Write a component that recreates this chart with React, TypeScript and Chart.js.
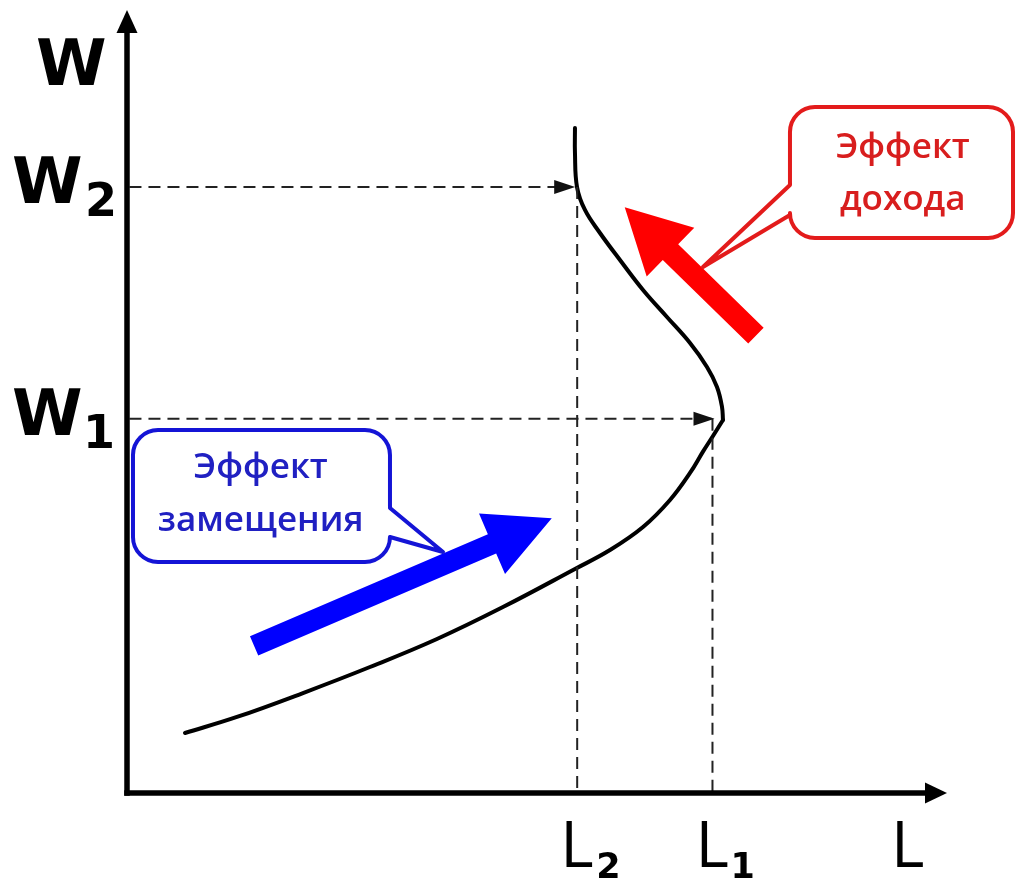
import React, { useEffect, useRef } from "react";
import { Chart, registerables } from "chart.js";

Chart.register(...registerables);

// ---- axis ranges (abstract units) ----
const X_MAX = 100;
const Y_MAX = 100;

// ---- key levels ----
const L2 = 54.9;
const L1 = 71.4;
const W2 = 77.4;
const W1 = 47.8;

// ---- backward-bending labour supply curve (L, W) ----
// rising (substitution-effect) branch, from the bottom up to the turning point
const lowerL = [7.07, 13.41, 21.46, 29.63, 37.8, 45.85, 54.63, 58.9, 62.93, 66.22, 68.66, 70.24, 71.46, 72.68];
const lowerW = [7.66, 9.71, 12.77, 16.09, 19.67, 23.75, 28.61, 31.03, 33.97, 37.42, 40.87, 43.6, 45.6, 47.64];
// bending-back (income-effect) branch, from the turning point upward
const upperL = [72.68, 72.56, 71.95, 70.73, 68.66, 65.85, 62.93, 60.12, 57.68, 55.85, 54.88, 54.63, 54.63];
const upperW = [47.64, 49.3, 51.85, 54.41, 57.47, 60.79, 64.24, 68.07, 71.52, 74.46, 77.39, 81.74, 84.93];

// ---- labels ----
const yAxisLabel = "W";
const xAxisLabel = "L";
const wLabels = [
  { base: "W", sub: "2", value: W2 },
  { base: "W", sub: "1", value: W1 },
];
const lLabels = [
  { base: "L", sub: "2", value: L2 },
  { base: "L", sub: "1", value: L1 },
];
const incomeText = ["Эффект", "дохода"];
const substitutionText = ["Эффект", "замещения"];

// ---- annotation geometry in data units ----
const incomeArrow = { from: [76.7, 58.4], to: [60.7, 74.8] };
const substitutionArrow = { from: [15.5, 18.8], to: [51.8, 35.1] };
const incomeBox = { l: 80.85, r: 108.05, t: 87.61, b: 70.88, tail1: 77.65, tail2: 73.82, tip: [70.24, 67.18], textX: 94.6, lines: [81.1, 74.4] };
const substBox = { l: 0.73, r: 32.07, t: 46.36, b: 29.5, tail1: 36.4, tail2: 32.7, tip: [38.54, 30.78], textX: 16.3, lines: [40.2, 33.4] };

const RED = "#ff0000";
const RED_BORDER = "#e31b1b";
const RED_TEXT = "#d81e1e";
const BLUE = "#0000ff";
const BLUE_BORDER = "#1414d6";
const BLUE_TEXT = "#2020c2";
const DASH = "#222222";
const CALLOUT_FONT = "600 35px 'Open Sans'";

function fatArrow(ctx: CanvasRenderingContext2D, x0: number, y0: number, x1: number, y1: number, sw: number, hl: number, hw: number, color: string) {
  const dx = x1 - x0, dy = y1 - y0;
  const len = Math.hypot(dx, dy);
  const ux = dx / len, uy = dy / len;
  const nx = -uy, ny = ux;
  const bx = x1 - ux * hl, by = y1 - uy * hl;
  ctx.beginPath();
  ctx.moveTo(x0 + nx * sw, y0 + ny * sw);
  ctx.lineTo(bx + nx * sw, by + ny * sw);
  ctx.lineTo(bx + nx * hw, by + ny * hw);
  ctx.lineTo(x1, y1);
  ctx.lineTo(bx - nx * hw, by - ny * hw);
  ctx.lineTo(bx - nx * sw, by - ny * sw);
  ctx.lineTo(x0 - nx * sw, y0 - ny * sw);
  ctx.closePath();
  ctx.fillStyle = color;
  ctx.fill();
}

function triangle(ctx: CanvasRenderingContext2D, tx: number, ty: number, dirx: number, diry: number, len: number, half: number, color: string) {
  const bx = tx - dirx * len, by = ty - diry * len;
  const nx = -diry, ny = dirx;
  ctx.beginPath();
  ctx.moveTo(tx, ty);
  ctx.lineTo(bx + nx * half, by + ny * half);
  ctx.lineTo(bx - nx * half, by - ny * half);
  ctx.closePath();
  ctx.fillStyle = color;
  ctx.fill();
}

function textAt(ctx: CanvasRenderingContext2D, s: string, left: number, baseline: number) {
  const m = ctx.measureText(s);
  ctx.textAlign = "left";
  ctx.textBaseline = "alphabetic";
  ctx.fillText(s, left + m.actualBoundingBoxLeft, baseline);
}

const overlay = {
  id: "overlay",
  afterDatasetsDraw(chart: any) {
    const ctx: CanvasRenderingContext2D = chart.ctx;
    const xs = chart.scales.x;
    const ys = chart.scales.y;
    const px = (v: number) => xs.getPixelForValue(v);
    const py = (v: number) => ys.getPixelForValue(v);
    const ox = px(0), oy = py(0), xEnd = px(X_MAX), yEnd = py(Y_MAX);
    ctx.save();

    // dashed-line arrowheads
    triangle(ctx, px(L2) - 2, py(W2), 1, 0, 21, 7, "#111");
    triangle(ctx, px(L1) + 2, py(W1), 1, 0, 21, 7, "#111");

    // axes
    ctx.strokeStyle = "#000";
    ctx.lineWidth = 5.5;
    ctx.beginPath();
    ctx.moveTo(ox, oy + 2.75);
    ctx.lineTo(ox, yEnd + 18);
    ctx.stroke();
    ctx.beginPath();
    ctx.moveTo(ox - 2.75, oy);
    ctx.lineTo(xEnd - 16, oy);
    ctx.stroke();
    triangle(ctx, ox, yEnd, 0, -1, 23, 10.5, "#000");
    triangle(ctx, xEnd, oy, 1, 0, 22, 10.5, "#000");

    // axis labels
    ctx.fillStyle = "#000";
    ctx.font = "bold 64px 'DejaVu Sans'";
    textAt(ctx, yAxisLabel, ox - 90, yEnd + 75);
    for (const w of wLabels) {
      ctx.font = "bold 64px 'DejaVu Sans'";
      textAt(ctx, w.base, ox - 114, py(w.value) + 16);
      ctx.font = "bold 46px 'DejaVu Sans'";
      textAt(ctx, w.sub, ox - 39, py(w.value) + 29);
    }
    for (const l of lLabels) {
      ctx.font = "64px 'Open Sans'";
      textAt(ctx, l.base, px(l.value) - 11, oy + 74);
      ctx.font = "bold 35px 'DejaVu Sans'";
      textAt(ctx, l.sub, px(l.value) + 21, oy + 85);
    }
    ctx.font = "64px 'Open Sans'";
    textAt(ctx, xAxisLabel, xEnd - 50, oy + 74);

    // fat arrows
    fatArrow(ctx, px(incomeArrow.from[0]), py(incomeArrow.from[1]), px(incomeArrow.to[0]), py(incomeArrow.to[1]), 11, 64, 34, RED);
    fatArrow(ctx, px(substitutionArrow.from[0]), py(substitutionArrow.from[1]), px(substitutionArrow.to[0]), py(substitutionArrow.to[1]), 10.5, 65, 33, BLUE);

    // callouts
    const rad = 25;
    {
      const b = incomeBox;
      const l = px(b.l), r = px(b.r), t = py(b.t), bo = py(b.b);
      ctx.beginPath();
      ctx.moveTo(l + rad, t);
      ctx.lineTo(r - rad, t);
      ctx.arcTo(r, t, r, t + rad, rad);
      ctx.lineTo(r, bo - rad);
      ctx.arcTo(r, bo, r - rad, bo, rad);
      ctx.lineTo(l + rad, bo);
      ctx.arcTo(l, bo, l, bo - rad, rad);
      ctx.lineTo(l, py(b.tail2));
      ctx.lineTo(px(b.tip[0]), py(b.tip[1]));
      ctx.lineTo(l, py(b.tail1));
      ctx.lineTo(l, t + rad);
      ctx.arcTo(l, t, l + rad, t, rad);
      ctx.closePath();
      ctx.fillStyle = "#fff";
      ctx.fill();
      ctx.strokeStyle = RED_BORDER;
      ctx.lineWidth = 4;
      ctx.lineJoin = "round";
      ctx.stroke();
      ctx.fillStyle = RED_TEXT;
      ctx.font = CALLOUT_FONT;
      ctx.textAlign = "center";
      ctx.textBaseline = "alphabetic";
      incomeText.forEach((s, i) => ctx.fillText(s, px(b.textX), py(b.lines[i])));
    }
    {
      const b = substBox;
      const l = px(b.l), r = px(b.r), t = py(b.t), bo = py(b.b);
      ctx.beginPath();
      ctx.moveTo(l + rad, t);
      ctx.lineTo(r - rad, t);
      ctx.arcTo(r, t, r, t + rad, rad);
      ctx.lineTo(r, py(b.tail1));
      ctx.lineTo(px(b.tip[0]), py(b.tip[1]));
      ctx.lineTo(r, py(b.tail2));
      ctx.arcTo(r, bo, r - rad, bo, rad);
      ctx.lineTo(l + rad, bo);
      ctx.arcTo(l, bo, l, bo - rad, rad);
      ctx.lineTo(l, t + rad);
      ctx.arcTo(l, t, l + rad, t, rad);
      ctx.closePath();
      ctx.fillStyle = "#fff";
      ctx.fill();
      ctx.strokeStyle = BLUE_BORDER;
      ctx.lineWidth = 4;
      ctx.lineJoin = "round";
      ctx.stroke();
      ctx.fillStyle = BLUE_TEXT;
      ctx.font = CALLOUT_FONT;
      ctx.textAlign = "center";
      ctx.textBaseline = "alphabetic";
      substitutionText.forEach((s, i) => ctx.fillText(s, px(b.textX), py(b.lines[i])));
    }
    ctx.restore();
  },
};

export default function App() {
  const ref = useRef<HTMLCanvasElement>(null);
  useEffect(() => {
    const canvas = ref.current!;
    const dashed = (pts: { x: number; y: number }[]) => ({
      data: pts,
      borderColor: DASH,
      borderWidth: 2,
      borderDash: [12, 7],
      pointRadius: 0,
      fill: false,
      tension: 0,
    });
    const curve = (xs: number[], ys: number[]) => ({
      data: xs.map((x, i) => ({ x, y: ys[i] })),
      borderColor: "#000",
      borderWidth: 4,
      borderCapStyle: "round",
      borderJoinStyle: "round",
      pointRadius: 0,
      fill: false,
      tension: 0.4,
    });
    const chart = new Chart(canvas, {
      type: "line",
      data: {
        datasets: [
          dashed([{ x: 0.3, y: W2 }, { x: L2 - 2, y: W2 }]),
          dashed([{ x: L2, y: W2 }, { x: L2, y: 0 }]),
          dashed([{ x: 0.3, y: W1 }, { x: L1, y: W1 }]),
          dashed([{ x: L1, y: W1 }, { x: L1, y: 0 }]),
          curve(lowerL, lowerW),
          curve(upperL, upperW),
        ] as any,
      },
      options: {
        animation: false,
        responsive: false,
        devicePixelRatio: 1,
        layout: { padding: { left: 127, right: 70, top: 10, bottom: 88 } },
        scales: {
          x: { type: "linear", min: 0, max: X_MAX, display: false },
          y: { type: "linear", min: 0, max: Y_MAX, display: false },
        },
        plugins: { legend: { display: false }, tooltip: { enabled: false } },
        events: [],
      } as any,
      plugins: [overlay],
    });
    return () => chart.destroy();
  }, []);
  return (
    <div style={{ position: "absolute", left: 0, top: 0, width: 1017, height: 881, background: "#fff" }}>
      <canvas ref={ref} width={1017} height={881} style={{ display: "block", width: 1017, height: 881 }} />
    </div>
  );
}
